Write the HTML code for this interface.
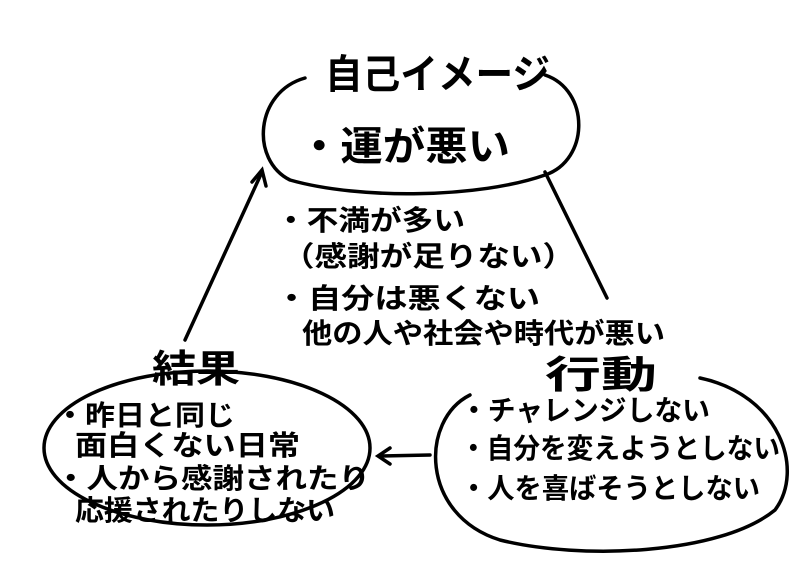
<!DOCTYPE html>
<html><head><meta charset="utf-8"><style>
html,body{margin:0;padding:0;background:#fff;}
svg{display:block}
text{font-family:"Liberation Sans","Noto Sans CJK JP",sans-serif;fill:#000;font-weight:bold;}
</style></head><body>
<svg width="800" height="565" viewBox="0 0 800 565" xmlns="http://www.w3.org/2000/svg">
<g fill="none" stroke="#000" stroke-width="3.5" stroke-linecap="round">
<path d="M305 78 C255 92 250 160 290 180 C360 200 480 198 545 175 C590 160 590 90 545 75"/>
<ellipse cx="207" cy="448" rx="163" ry="77"/>
<path d="M470 395 C420 420 420 515 500 540 C580 560 720 555 775 510 C805 470 780 395 700 378"/>
<line x1="185" y1="340" x2="262" y2="172"/>
<path d="M252 182 L262 170 L266 186"/>
<line x1="545" y1="172" x2="607" y2="298"/>
<line x1="430" y1="455" x2="380" y2="456"/>
<path d="M390 448 L378 456 L390 464"/>
</g>
<g font-size="40">
<text x="325" y="88" textLength="225" lengthAdjust="spacingAndGlyphs">自己イメージ</text>
<text x="298" y="160" textLength="212" lengthAdjust="spacingAndGlyphs">・運が悪い</text>
<text x="152" y="382" font-size="38" textLength="88" lengthAdjust="spacingAndGlyphs">結果</text>
<text x="545" y="388" font-size="38" textLength="112" lengthAdjust="spacingAndGlyphs">行動</text>
</g>
<g font-size="28">
<text x="275" y="230" textLength="190" lengthAdjust="spacingAndGlyphs">・不満が多い</text>
<text x="282" y="266" textLength="293" lengthAdjust="spacingAndGlyphs">（感謝が足りない）</text>
<text x="275" y="308" textLength="265" lengthAdjust="spacingAndGlyphs">・自分は悪くない</text>
<text x="302" y="343" textLength="363" lengthAdjust="spacingAndGlyphs">他の人や社会や時代が悪い</text>
<text x="55" y="425" textLength="180" lengthAdjust="spacingAndGlyphs">・昨日と同じ</text>
<text x="75" y="455" textLength="225" lengthAdjust="spacingAndGlyphs">面白くない日常</text>
<text x="55" y="488" textLength="315" lengthAdjust="spacingAndGlyphs">・人から感謝されたり</text>
<text x="75" y="520" textLength="260" lengthAdjust="spacingAndGlyphs">応援されたりしない</text>
<text x="460" y="420" textLength="250" lengthAdjust="spacingAndGlyphs">・チャレンジしない</text>
<text x="460" y="458" textLength="320" lengthAdjust="spacingAndGlyphs">・自分を変えようとしない</text>
<text x="460" y="498" textLength="300" lengthAdjust="spacingAndGlyphs">・人を喜ばそうとしない</text>
</g>
</svg>
</body></html>
